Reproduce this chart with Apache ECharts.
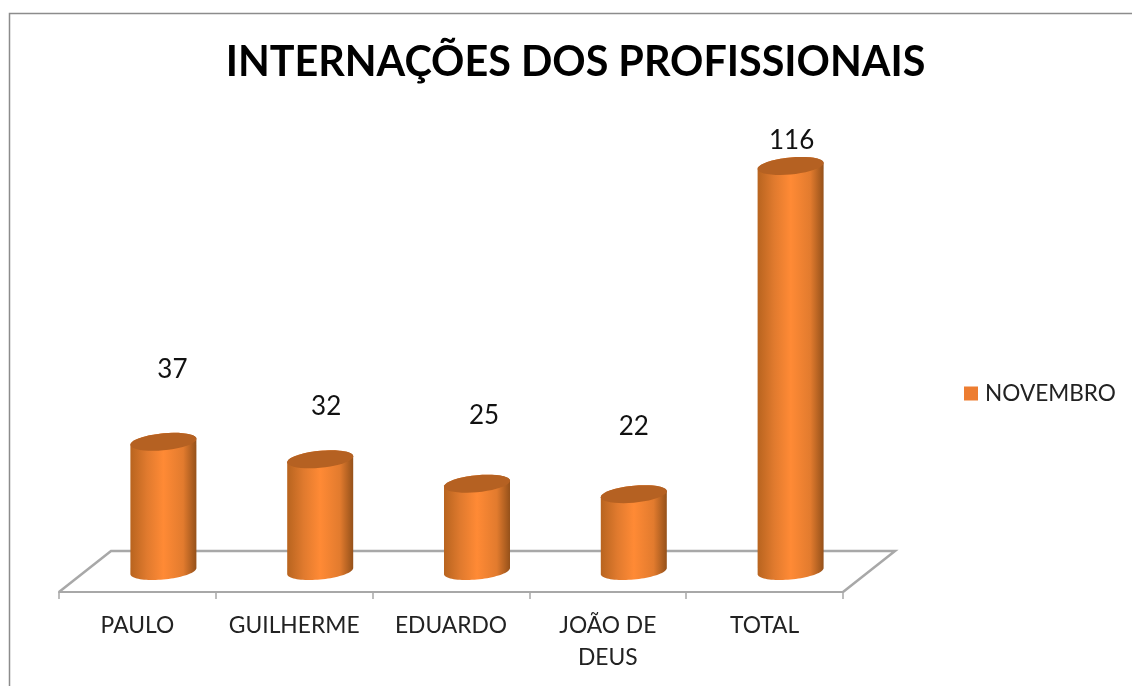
<!DOCTYPE html>
<html lang="pt">
<head>
<meta charset="utf-8">
<title>Internações dos profissionais</title>
<style>
  html, body { margin: 0; background: #fff; }
  #chart { width: 1132px; height: 686px; }
</style>
</head>
<body>
<div id="chart"></div>
<script src="https://cdn.jsdelivr.net/npm/echarts@6/dist/echarts.min.js"></script>
<script>
const categories = ['PAULO', 'GUILHERME', 'EDUARDO', 'JOÃO DE\nDEUS', 'TOTAL']
const novembro = [37, 32, 25, 22, 116]

// os rótulos do original não ficam a distância fixa do topo: [dx, dy] a partir do centro do topo
const labelShift = [[9, -72], [6, -53], [7, -68], [0, -68], [1, -25]]

const FONT = 'Lato, "Open Sans", sans-serif'
const DEPTH_X = 26   // meio do piso 3D
const DEPTH_Y = -21
const RX = 33
const RY = 8.5
const TILT = 3

const chart = echarts.init(document.getElementById('chart'))

// elipse inclinada, do ângulo a até b
function arc(cx, cy, a, b) {
  const pts = []
  for (let i = 0; i <= 40; i++) {
    const t = a + (b - a) * i / 40
    pts.push([cx + RX * Math.cos(t), cy + RY * Math.sin(t) - TILT * Math.cos(t)])
  }
  return pts
}

function renderCylinder(params, api) {
  const idx = api.value(0)
  const top = api.coord([idx, api.value(1)])
  const base = api.coord([idx, 0])
  const cx = base[0] + DEPTH_X
  const topY = top[1] + DEPTH_Y
  const baseY = base[1] + DEPTH_Y
  const shift = labelShift[idx]

  return {
    type: 'group',
    children: [
      {
        type: 'polygon',
        shape: { points: arc(cx, baseY, 0, Math.PI).concat(arc(cx, topY, Math.PI, 2 * Math.PI)) },
        style: {
          fill: new echarts.graphic.LinearGradient(0, 0, 1, 0, [
            { offset: 0, color: '#b8641f' },
            { offset: 0.25, color: '#e07a2e' },
            { offset: 0.5, color: '#ff8a35' },
            { offset: 0.8, color: '#e27b2e' },
            { offset: 1, color: '#95511a' }
          ])
        }
      },
      {
        type: 'polygon',
        shape: { points: arc(cx, topY, 0, 2 * Math.PI) },
        style: { fill: '#b56122' }
      },
      {
        type: 'text',
        style: {
          x: cx + shift[0],
          y: topY + shift[1],
          text: String(api.value(1)),
          fill: '#111',
          font: '26px ' + FONT,
          align: 'center',
          verticalAlign: 'middle'
        }
      }
    ]
  }
}

chart.setOption({
  animation: false,
  backgroundColor: '#fff',
  title: {
    text: 'INTERNAÇÕES DOS PROFISSIONAIS',
    left: 570.5,
    top: 37,
    textAlign: 'center',
    textStyle: { color: '#000', fontFamily: FONT, fontWeight: 'bold', fontSize: 41.3 }
  },
  legend: {
    left: 964,
    top: 382,
    padding: 0,
    icon: 'rect',
    itemWidth: 14,
    itemHeight: 14,
    itemGap: 0,
    textStyle: { color: '#222', fontFamily: FONT, fontSize: 22.6, padding: [0, 0, 0, 2] }
  },
  grid: { left: 59, right: 289, top: 173, height: 419 },
  xAxis: {
    type: 'category',
    data: categories,
    axisLine: { lineStyle: { color: '#a8a8a8', width: 2 } },
    axisTick: { show: true, length: 7, lineStyle: { color: '#a8a8a8', width: 1.5 } },
    axisLabel: { interval: 0, color: '#222', fontFamily: FONT, fontSize: 22.8, lineHeight: 32, margin: 18 }
  },
  yAxis: { type: 'value', min: 0, max: 120, show: false },
  series: [{
    name: 'NOVEMBRO',
    type: 'custom',
    renderItem: renderCylinder,
    itemStyle: { color: '#ed7d31' },
    encode: { x: 0, y: 1 },
    data: novembro.map((v, i) => [i, v]),
    z: 5
  }],
  graphic: [
    // moldura
    { type: 'polyline', z: 0, shape: { points: [[9.5, 686], [9.5, 13.5], [1132, 13.5]] }, style: { fill: 'none', stroke: '#8c8c8c', lineWidth: 1.5 } },
    // piso
    { type: 'polyline', z: 1, shape: { points: [[59, 592], [111, 551], [895, 551], [843, 592]] }, style: { fill: 'none', stroke: '#a8a8a8', lineWidth: 2.5 } }
  ]
})
</script>
</body>
</html>
